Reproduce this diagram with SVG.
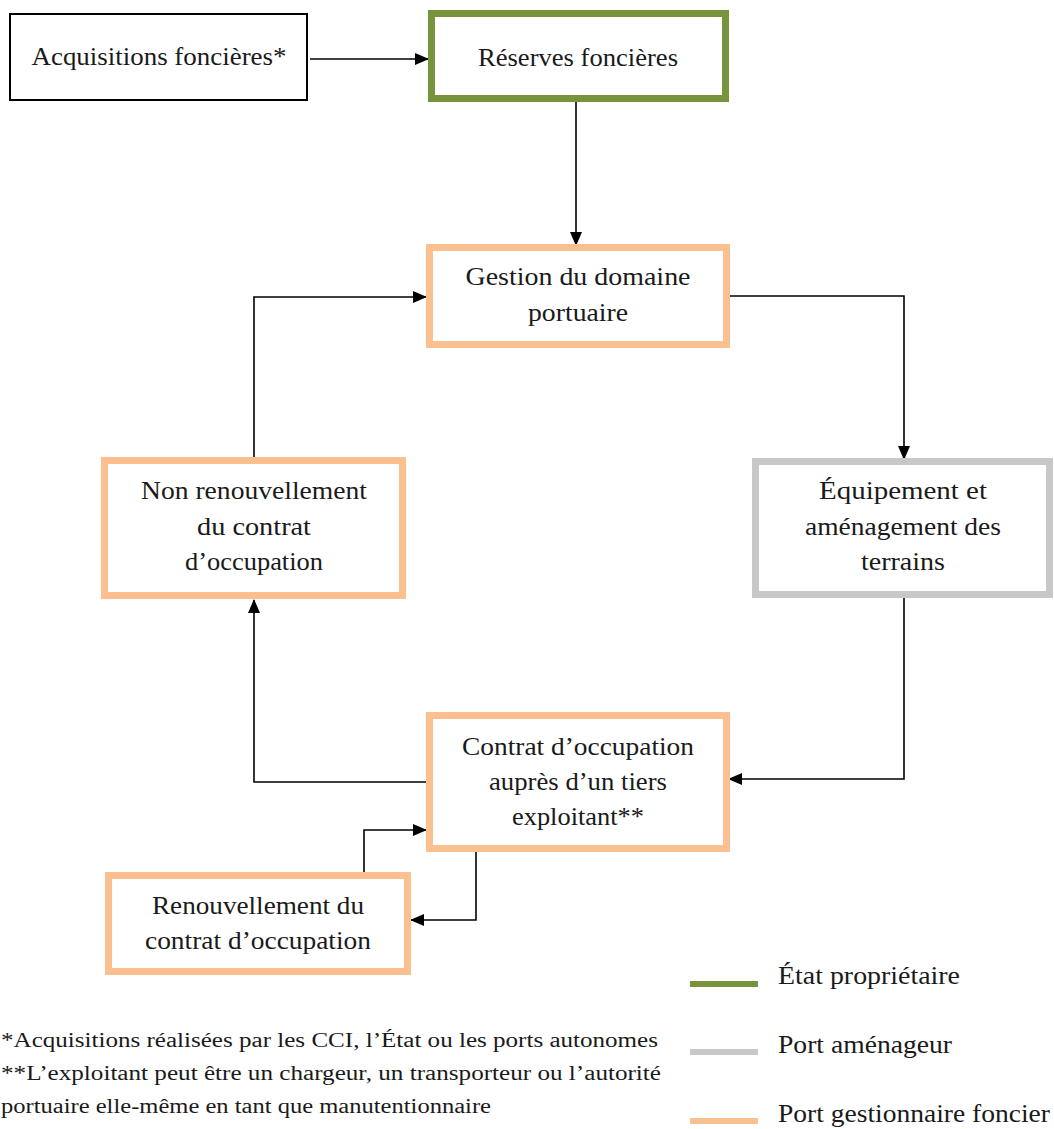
<svg xmlns="http://www.w3.org/2000/svg" width="1054" height="1129" viewBox="0 0 1054 1129">
<defs>
<marker id="ah" markerWidth="14" markerHeight="12" refX="13" refY="6" orient="auto" markerUnits="userSpaceOnUse">
<path d="M0,0 L14,6 L0,12 Z" fill="#000"/>
</marker>
<style>
text{font-family:"Liberation Serif","Times New Roman",serif;font-size:25px;fill:#1a1a1a;text-anchor:middle}
.fn{font-size:20px;text-anchor:start}
.lg{text-anchor:start}
.box{fill:#fff}
.green{stroke:#77933C;stroke-width:7}
.orange{stroke:#FAC090;stroke-width:7}
.gray{stroke:#C8C8C8;stroke-width:7}
.black{stroke:#000;stroke-width:2}
.conn{fill:none;stroke:#000;stroke-width:1.6;marker-end:url(#ah)}
</style>
</defs>
<rect width="1054" height="1129" fill="#fff"/>
<g id="connectors">
<path class="conn" d="M310,59 L428,59"/>
<path class="conn" d="M576,102 L576,245"/>
<path class="conn" d="M730,296 L904,296 L904,459"/>
<path class="conn" d="M904,598 L904,779 L729,779"/>
<path class="conn" d="M430,782 L254,782 L254,600"/>
<path class="conn" d="M254,460 L254,297 L426,297"/>
<path class="conn" d="M364,874 L364,830 L426,830"/>
<path class="conn" d="M476,852 L476,920 L411,920"/>
</g>
<g id="acquisitions">
<rect class="box black" x="10" y="14" width="297" height="86"/>
<text x="159" y="65" textLength="255" lengthAdjust="spacingAndGlyphs">Acquisitions foncières*</text>
</g>
<g id="reserves">
<rect class="box green" x="431.5" y="13.5" width="294" height="85"/>
<text x="578" y="66" textLength="200" lengthAdjust="spacingAndGlyphs">Réserves foncières</text>
</g>
<g id="gestion">
<rect class="box orange" x="429.5" y="247.5" width="297" height="97"/>
<text x="578" y="285" textLength="225" lengthAdjust="spacingAndGlyphs">Gestion du domaine</text>
<text x="578" y="321" textLength="100" lengthAdjust="spacingAndGlyphs">portuaire</text>
</g>
<g id="equipement">
<rect class="box gray" x="755.5" y="461.5" width="294" height="133"/>
<text x="903" y="499" textLength="168" lengthAdjust="spacingAndGlyphs">Équipement et</text>
<text x="903" y="535" textLength="196" lengthAdjust="spacingAndGlyphs">aménagement des</text>
<text x="903" y="570" textLength="84" lengthAdjust="spacingAndGlyphs">terrains</text>
</g>
<g id="contrat">
<rect class="box orange" x="429.5" y="715.5" width="297" height="133"/>
<text x="578" y="755" textLength="232" lengthAdjust="spacingAndGlyphs">Contrat d’occupation</text>
<text x="578" y="790" textLength="178" lengthAdjust="spacingAndGlyphs">auprès d’un tiers</text>
<text x="578" y="825" textLength="132" lengthAdjust="spacingAndGlyphs">exploitant**</text>
</g>
<g id="non-renouvellement">
<rect class="box orange" x="104.5" y="460.5" width="298" height="135"/>
<text x="254" y="499" textLength="226" lengthAdjust="spacingAndGlyphs">Non renouvellement</text>
<text x="254" y="535" textLength="114" lengthAdjust="spacingAndGlyphs">du contrat</text>
<text x="254" y="570" textLength="138" lengthAdjust="spacingAndGlyphs">d’occupation</text>
</g>
<g id="renouvellement">
<rect class="box orange" x="108.5" y="875.5" width="299" height="96"/>
<text x="258" y="914" textLength="212" lengthAdjust="spacingAndGlyphs">Renouvellement du</text>
<text x="258" y="949" textLength="226" lengthAdjust="spacingAndGlyphs">contrat d’occupation</text>
</g>
<g id="legend">
<line x1="690" y1="984" x2="758" y2="984" stroke="#77933C" stroke-width="6"/>
<line x1="690" y1="1052" x2="758" y2="1052" stroke="#C8C8C8" stroke-width="6"/>
<line x1="690" y1="1121" x2="758" y2="1121" stroke="#FAC090" stroke-width="6"/>
<text class="lg" x="778" y="984" textLength="182" lengthAdjust="spacingAndGlyphs">État propriétaire</text>
<text class="lg" x="778" y="1053" textLength="174" lengthAdjust="spacingAndGlyphs">Port aménageur</text>
<text class="lg" x="778" y="1122" textLength="272" lengthAdjust="spacingAndGlyphs">Port gestionnaire foncier</text>
</g>
<g id="footnotes">
<text class="fn" x="1" y="1047" textLength="657" lengthAdjust="spacingAndGlyphs">*Acquisitions réalisées par les CCI, l’État ou les ports autonomes</text>
<text class="fn" x="1" y="1080" textLength="660" lengthAdjust="spacingAndGlyphs">**L’exploitant peut être un chargeur, un transporteur ou l’autorité</text>
<text class="fn" x="1" y="1113" textLength="490" lengthAdjust="spacingAndGlyphs">portuaire elle-même en tant que manutentionnaire</text>
</g>
</svg>
